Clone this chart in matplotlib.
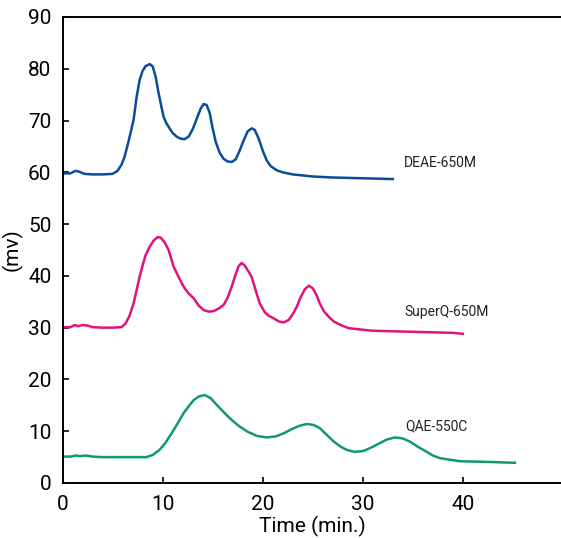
import matplotlib
matplotlib.use("Agg")
from matplotlib import pyplot as plt

plt.rcParams['font.family'] = ['Roboto', 'DejaVu Sans']

# DEAE-650M (blue)
deae_t = [0, 0.8, 1.3, 1.7, 2.2, 3.0, 4.0, 5.0, 5.5, 5.9, 6.2, 6.6, 7.1, 7.4, 7.7, 8.0, 8.3, 8.7,
          9.0, 9.3, 9.6, 9.9, 10.1, 10.4, 10.7, 11.0, 11.4, 11.8, 12.2, 12.6, 13.0, 13.4, 13.8,
          14.1, 14.4, 14.7, 15.0, 15.3, 15.7, 16.1, 16.5, 16.9, 17.3, 17.7, 18.1, 18.5, 18.9,
          19.2, 19.6, 20.0, 20.4, 20.8, 21.4, 22.0, 23.0, 25.0, 27.0, 29.0, 31.0, 33.0]
deae_v = [59.8, 59.8, 60.3, 60.1, 59.7, 59.6, 59.6, 59.7, 60.3, 61.5, 63.0, 66.0, 70.1, 74.5, 77.8, 79.6, 80.5, 80.9,
          80.5, 78.5, 75.3, 72.5, 70.7, 69.4, 68.5, 67.6, 66.9, 66.5, 66.4, 66.9, 68.3, 70.3, 72.3,
          73.2, 73.0, 71.5, 68.5, 65.9, 63.8, 62.6, 62.1, 62.0, 62.5, 64.2, 66.2, 67.9, 68.5,
          68.2, 66.5, 64.2, 62.3, 61.2, 60.4, 60.0, 59.6, 59.2, 59.0, 58.9, 58.8, 58.7]

# SuperQ-650M (magenta)
superq_t = [0, 0.8, 1.2, 1.6, 2.0, 2.5, 3.0, 4.0, 5.0, 5.9, 6.3, 6.7, 7.1, 7.4, 7.7, 8.0, 8.3, 8.7,
            9.1, 9.5, 9.8, 10.2, 10.6, 11.1, 11.6, 12.1, 12.6, 13.1, 13.6, 14.1, 14.6, 15.1, 15.6,
            16.1, 16.5, 16.9, 17.3, 17.6, 17.9, 18.2, 18.6, 18.9, 19.3, 19.7, 20.2, 20.6, 21.1,
            21.6, 22.1, 22.6, 23.0, 23.4, 23.8, 24.2, 24.6, 25.0, 25.4, 25.7, 26.1, 26.6, 27.1,
            27.8, 28.6, 30.0, 31.0, 33.0, 35.0, 37.0, 39.0, 40.0]
superq_v = [30.1, 30.1, 30.5, 30.3, 30.5, 30.4, 30.1, 30.0, 30.0, 30.1, 30.8, 32.3, 34.7, 37.2, 39.8, 42.0, 44.0, 45.6,
            46.8, 47.5, 47.4, 46.5, 45.0, 41.8, 39.8, 37.9, 36.6, 35.7, 34.3, 33.4, 33.1, 33.2, 33.7,
            34.4, 35.8, 37.9, 40.3, 41.9, 42.5, 42.0, 40.8, 39.8, 37.2, 34.7, 33.0, 32.3, 31.8,
            31.2, 31.0, 31.5, 32.6, 34.0, 35.9, 37.4, 38.1, 37.6, 36.2, 34.7, 33.2, 32.1, 31.2,
            30.5, 29.9, 29.6, 29.4, 29.3, 29.2, 29.1, 29.0, 28.8]

# QAE-550C (green)
qae_t = [0, 0.8, 1.3, 1.8, 2.3, 3.0, 4.0, 6.0, 8.4, 9.0, 9.7, 10.3, 10.9, 11.5, 12.1, 12.6, 13.1,
         13.6, 14.2, 14.8, 15.4, 15.9, 16.4, 17.0, 17.7, 18.5, 19.4, 20.4, 21.3, 22.1, 22.8,
         23.6, 24.4, 25.1, 25.7, 26.4, 27.1, 27.8, 28.4, 29.2, 30.1, 31.0, 31.6, 32.4, 33.2,
         34.0, 34.7, 35.5, 36.4, 37.0, 37.7, 38.7, 39.7, 42.0, 45.2]
qae_v = [5.1, 5.1, 5.3, 5.2, 5.3, 5.1, 5.0, 5.0, 5.0, 5.4, 6.4, 7.8, 9.6, 11.5, 13.5, 14.8, 16.0,
         16.7, 17.0, 16.4, 15.1, 14.1, 13.1, 12.0, 10.9, 9.9, 9.1, 8.8, 9.0, 9.6, 10.3,
         11.0, 11.4, 11.2, 10.6, 9.3, 8.0, 7.0, 6.4, 6.0, 6.2, 7.0, 7.6, 8.4, 8.8,
         8.6, 8.0, 7.0, 6.0, 5.3, 4.8, 4.5, 4.2, 4.1, 3.9]

labels = ['DEAE-650M', 'SuperQ-650M', 'QAE-550C']
label_pos = [(34.1, 61.8), (34.2, 33.0), (34.2, 11.0)]
colors = ['#0a4c9c', '#e2127c', '#0f9a6c']

fig = plt.figure(figsize=(5.61, 5.38), dpi=100)
ax = fig.add_axes([62.5 / 561, 55 / 538, 500.5 / 561, 466 / 538])

for t, v, c in zip([deae_t, superq_t, qae_t], [deae_v, superq_v, qae_v], colors):
    ax.plot(t, v, color=c, linewidth=1.8, solid_joinstyle='round')

for lab, (x, y) in zip(labels, label_pos):
    ax.text(x, y, lab, fontsize=10, va='center', ha='left', color='#222222')

ax.set_xlim(0, 50)
ax.set_ylim(0, 90)
ax.set_xticks([0, 10, 20, 30, 40])
ax.set_yticks(range(0, 91, 10))
ax.tick_params(direction='in', length=4.5, width=1.2, labelsize=15)
ax.tick_params(axis='x', pad=9)
ax.tick_params(axis='y', pad=8)
ax.spines['right'].set_visible(False)
for s in ['left', 'bottom', 'top']:
    ax.spines[s].set_linewidth(1.4)
ax.set_xlabel('Time (min.)', fontsize=15, labelpad=1)
ax.set_ylabel('(mv)', fontsize=15, labelpad=4)

fig.savefig('out.png', dpi=100)
